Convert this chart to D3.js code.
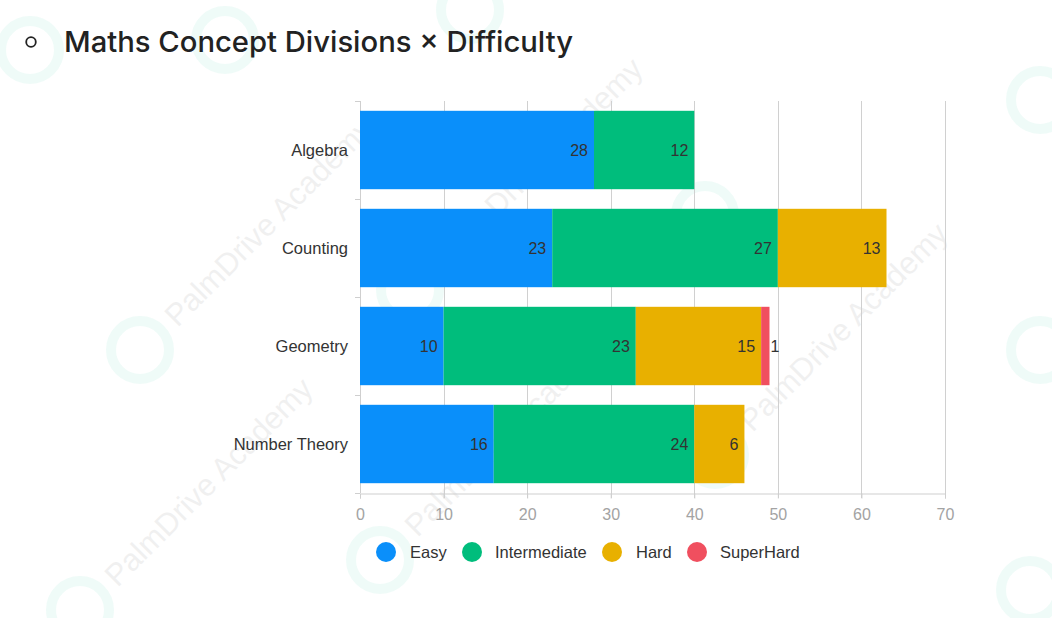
<!DOCTYPE html>
<html><head><meta charset="utf-8">
<script src="https://cdn.jsdelivr.net/npm/d3@7"></script>
<style>
body{margin:0;background:#fff;}
svg{display:block;font-family:"Liberation Sans",Arial,sans-serif;}
</style>
</head><body>
<svg id="c" width="1052" height="618"></svg>
<script>
// ---- data ----
const categories = ["Algebra", "Counting", "Geometry", "Number Theory"];
const seriesNames = ["Easy", "Intermediate", "Hard", "SuperHard"];
const easy = [28, 23, 10, 16];
const intermediate = [12, 27, 23, 24];
const hard = [0, 13, 15, 6];
const superHard = [0, 0, 1, 0];
const xTicks = [0, 10, 20, 30, 40, 50, 60, 70];
const titleText = "Maths Concept Divisions \u00d7 Difficulty";
const watermarkText = "PalmDrive Academy";

// ---- styling ----
const colors = ["#0a8ffa", "#00bd7c", "#e8b000", "#f04f5f"];
const svg = d3.select("#c");

// watermark (decorative): [x, y, showText]
const wmPos = [[30,50,0],[225,40,0],[470,10,0],[140,350,1],[410,290,1],[705,215,0],[1040,100,0],[1040,350,0],[80,610,1],[380,560,1],[715,455,1],[1030,590,0]];
const wm = svg.append("g").attr("class","watermark");
wmPos.forEach(([x,y,t])=>{
  const g = wm.append("g").attr("transform",`translate(${x},${y}) rotate(-45)`);
  g.append("circle").attr("r",29).attr("fill","none").attr("stroke","#5fd3bb").attr("stroke-width",10).attr("opacity",0.1);
  if(t) g.append("text").attr("x",42).attr("y",11).attr("font-size",31).attr("fill","#000").attr("opacity",0.055).text(watermarkText);
});

// title
svg.append("circle").attr("cx",31).attr("cy",42).attr("r",4.8).attr("fill","none").attr("stroke","#222").attr("stroke-width",1.8);
svg.append("text").attr("x",64).attr("y",51.5).attr("font-size",29).attr("font-family","Inter, Roboto, 'Liberation Sans', Arial, sans-serif")
  .attr("font-weight",500).attr("fill","#222").attr("textLength",509).attr("lengthAdjust","spacingAndGlyphs").text(titleText);

// scales
const x = d3.scaleLinear().domain([0,70]).range([360,945]);
const y = d3.scaleBand().domain(categories).range([101,493]).paddingInner(0.2).paddingOuter(0.1);

// grid
svg.append("g").selectAll("line").data(xTicks.filter(t=>t>0)).join("line")
  .attr("x1",d=>Math.round(x(d))+0.5).attr("x2",d=>Math.round(x(d))+0.5)
  .attr("y1",101).attr("y2",498).attr("stroke","#d0d0d0").attr("stroke-width",1);

// x axis
const xAxis = svg.append("g").attr("transform","translate(0,493.5)")
  .call(d3.axisBottom(x).tickValues(xTicks).tickSize(5).tickPadding(10));
xAxis.select(".domain").attr("stroke","#cfcfcf");
xAxis.selectAll(".tick line").attr("stroke","#cfcfcf");
xAxis.selectAll("text").attr("font-size",16).attr("fill","#a3a3a3").attr("font-family","'Liberation Sans', Arial, sans-serif");

// y axis line + boundary ticks
const step = y.step();
const bounds = categories.map(c=>y(c) - (step - y.bandwidth())/2).concat([493]);
svg.append("line").attr("x1",360.5).attr("x2",360.5).attr("y1",101).attr("y2",493).attr("stroke","#cfcfcf");
svg.append("g").selectAll("line").data(bounds).join("line")
  .attr("x1",355).attr("x2",360).attr("y1",d=>Math.round(d)+0.5).attr("y2",d=>Math.round(d)+0.5).attr("stroke","#cfcfcf");

// category labels
svg.append("g").selectAll("text").data(categories).join("text")
  .attr("x",348).attr("y",d=>y(d)+y.bandwidth()/2).attr("dy","0.35em")
  .attr("text-anchor","end").attr("font-size",16.5).attr("fill","#333").text(d=>d);

// stacked data
const rows = categories.map((c,i)=>({cat:c, Easy:easy[i], Intermediate:intermediate[i], Hard:hard[i], SuperHard:superHard[i]}));
const stack = d3.stack().keys(seriesNames)(rows);

const layers = svg.append("g").selectAll("g").data(stack).join("g").attr("fill",(d,i)=>colors[i]);
layers.selectAll("rect").data(d=>d).join("rect")
  .attr("x",d=>x(d[0])).attr("width",d=>x(d[1])-x(d[0]))
  .attr("y",d=>y(d.data.cat)).attr("height",y.bandwidth());

// value labels
const lab = svg.append("g");
stack.forEach((layer)=>{
  layer.forEach(d=>{
    const v = d[1]-d[0];
    if(v<=0) return;
    const w = x(d[1])-x(d[0]);
    const small = w < 20;
    lab.append("text")
      .attr("x", small ? x(d[1])+1 : x(d[1])-6)
      .attr("y", y(d.data.cat)+y.bandwidth()/2).attr("dy","0.35em")
      .attr("text-anchor", small ? "start" : "end")
      .attr("font-size",16).attr("fill","#333").text(v);
  });
});

// legend
const legendItems = [[386,410],[472,495],[612,636],[697,720]];
const lg = svg.append("g");
seriesNames.forEach((s,i)=>{
  lg.append("circle").attr("cx",legendItems[i][0]).attr("cy",552).attr("r",10).attr("fill",colors[i]);
  lg.append("text").attr("x",legendItems[i][1]).attr("y",552).attr("dy","0.35em")
    .attr("font-size",16.5).attr("fill","#333").text(s);
});
</script>
</body></html>
